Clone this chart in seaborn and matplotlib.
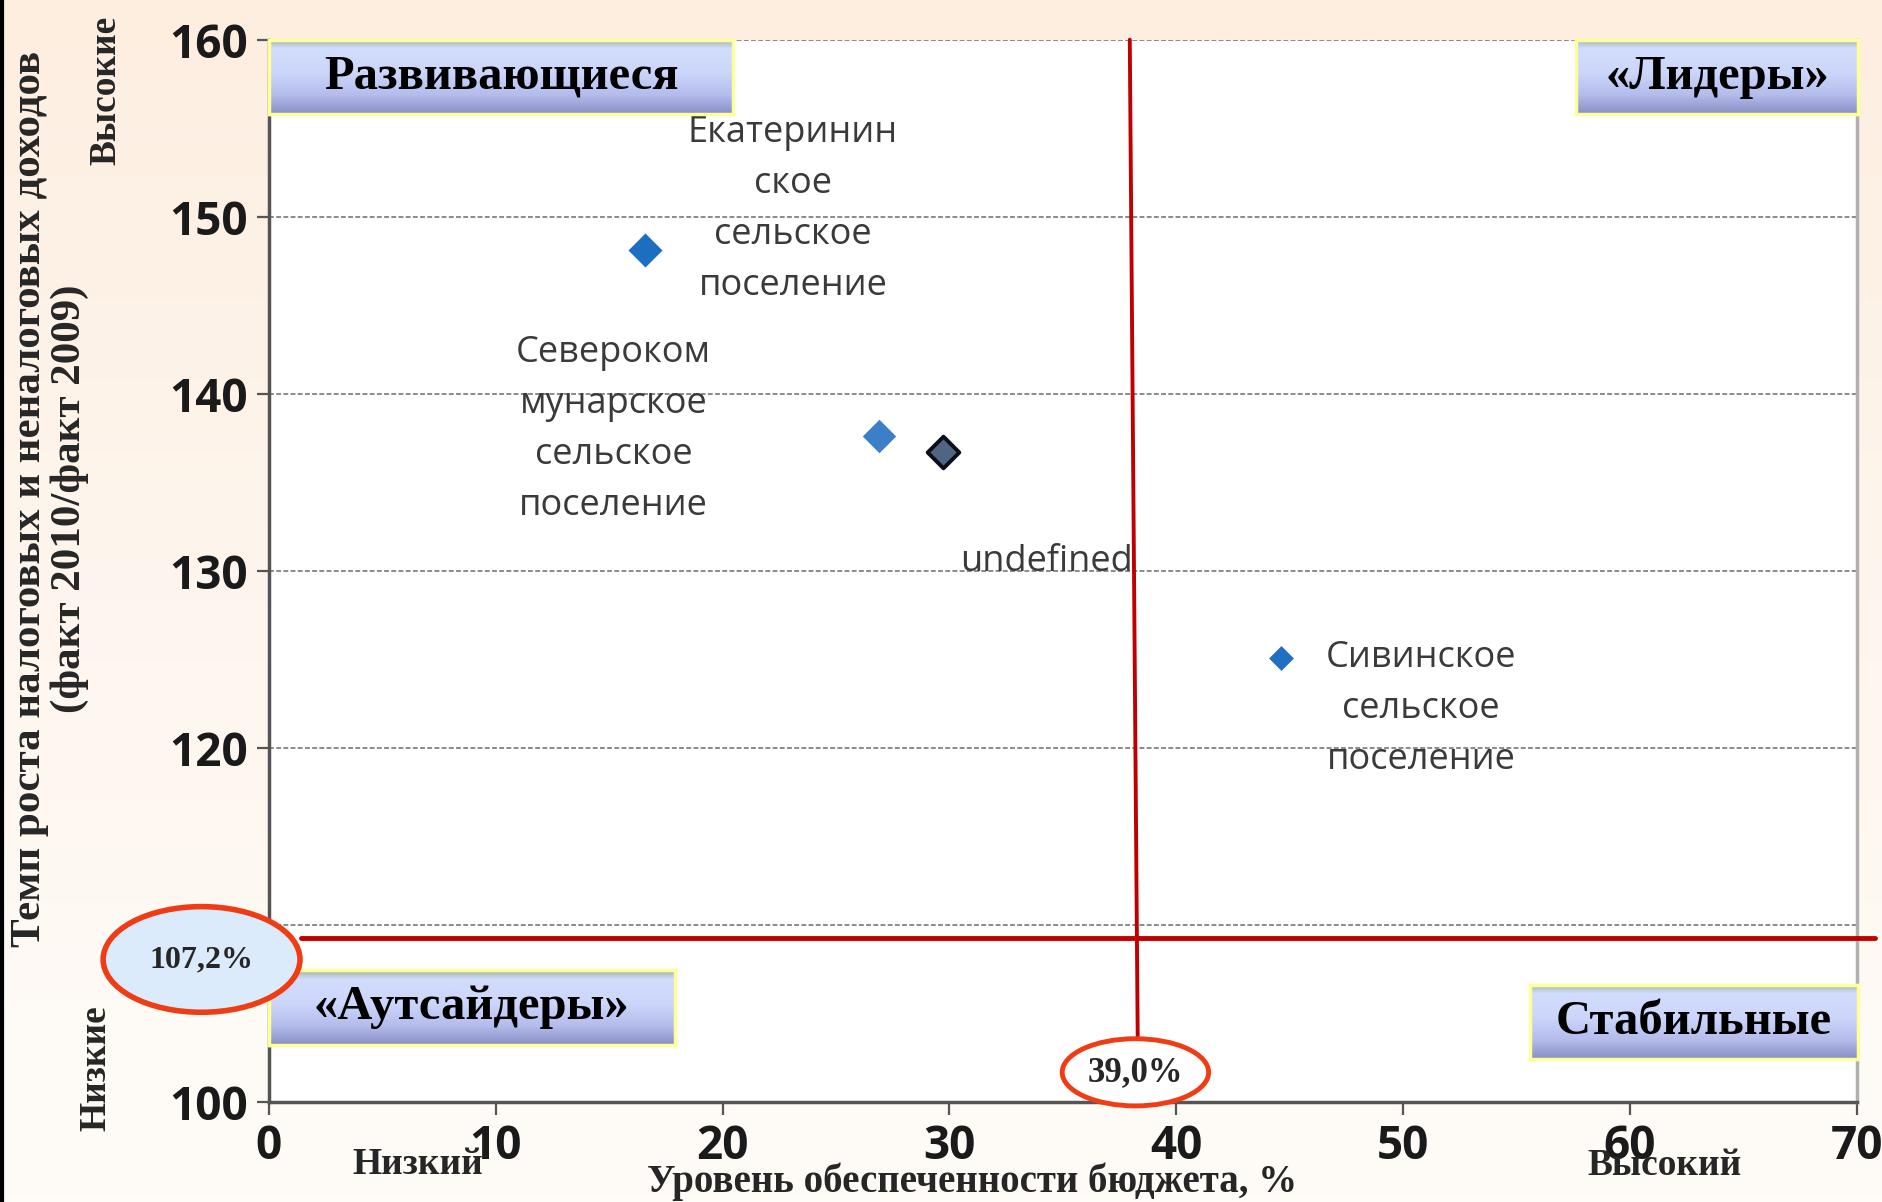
import numpy as np
import pandas as pd
import matplotlib
matplotlib.use("Agg")
import matplotlib.pyplot as plt
import seaborn as sns
from matplotlib.patches import Ellipse
from matplotlib.colors import LinearSegmentedColormap

# --- data ---
settlements = ["Екатерининское", "Северокоммунарское", "undefined", "Сивинское"]
budget_level = [16.6, 26.9, 29.7, 44.6]      # Уровень обеспеченности бюджета, %
growth_rate = [148.1, 137.6, 136.7, 125.1]   # Темп роста доходов
point_labels = ["Екатеринин\nское\nсельское\nпоселение",
                "Североком\nмунарское\nсельское\nпоселение",
                "undefined",
                "Сивинское\nсельское\nпоселение"]
quadrant_names = ["Развивающиеся", "«Лидеры»", "«Аутсайдеры»", "Стабильные"]
x_threshold_label = "39,0%"
y_threshold_label = "107,2%"
x_threshold_pos = [37.95, 38.3]   # red line drawn slightly tilted in the original
y_threshold_pos = 109.3
x_ticks = [0, 10, 20, 30, 40, 50, 60, 70]
y_ticks = [100, 110, 120, 130, 140, 150, 160]

# --- layout / style ---
label_xy = [(23.1, 150.4), (15.2, 138.0), (34.3, 130.5), (50.8, 122.2)]
marker_size = [300, 290, 260, 160]
marker_fill = ["#1c6fc0", "#3b80c6", "#4f6582", "#1f70c2"]
marker_edge = ["#1c6fc0", "#3b80c6", "#0b0f1a", "#1f70c2"]
marker_lw = [0, 0, 2.8, 0]

df = pd.DataFrame({"settlement": settlements, "budget": budget_level, "growth": growth_rate})

sns.set_style("ticks")
plt.rcParams["font.family"] = ["Liberation Serif", "DejaVu Sans"]

fig = plt.figure(figsize=(18.82, 12.02), dpi=100)

# slide background
bg = fig.add_axes([0, 0, 1, 1], zorder=-10)
bg_cmap = LinearSegmentedColormap.from_list("bg", ["#fdeee0", "#fef6ee", "#fffcf8"])
bg.imshow(np.linspace(0, 1, 200).reshape(-1, 1), aspect="auto", cmap=bg_cmap, extent=[0, 1, 0, 1])
bg.axvline(0.001, color="black", lw=3)
bg.set_xlim(0, 1)
bg.set_ylim(0, 1)
bg.axis("off")

ax = fig.add_axes([0.1429, 0.0829, 0.8437, 0.8841])
ax.set_facecolor("white")

for i, row in df.iterrows():
    sns.scatterplot(data=row.to_frame().T, x="budget", y="growth", marker="D",
                    s=marker_size[i], color=marker_fill[i], edgecolor=marker_edge[i],
                    linewidth=marker_lw[i], ax=ax, zorder=4, legend=False)

for lbl, (tx, ty) in zip(point_labels, label_xy):
    ax.text(tx, ty, lbl, ha="center", va="center", fontsize=26, color="#3a3a3a",
            family="Open Sans", linespacing=1.55, zorder=3)

ax.set_xlim(x_ticks[0], x_ticks[-1])
ax.set_ylim(y_ticks[0], y_ticks[-1])
ax.set_xticks(x_ticks)
ax.set_yticks(y_ticks)
ax.set_xlabel("")
ax.set_ylabel("")
ax.yaxis.grid(True, linestyle=(0, (2.5, 1.2)), color="#8a8a8a", lw=1.4)
ax.set_axisbelow(True)
ax.tick_params(axis="both", length=9, width=1.6, color="#555555", labelsize=33,
               labelcolor="#1a1a1a", pad=6)
plt.setp(ax.get_xticklabels() + ax.get_yticklabels(), family="Open Sans", weight="bold")
ax.spines["top"].set_visible(False)
ax.spines["left"].set_color("#555555")
ax.spines["left"].set_linewidth(2.5)
ax.spines["bottom"].set_color("#555555")
ax.spines["bottom"].set_linewidth(2.5)
ax.spines["right"].set_color("#b0b0b0")
ax.spines["right"].set_linewidth(2.5)

# threshold lines
ax.plot([1.4, 70.8], [y_threshold_pos, y_threshold_pos], color="#c00000", lw=3.5,
        clip_on=False, zorder=5)
ax.plot(x_threshold_pos, [160, 103.6], color="#c00000", lw=2.8, clip_on=False, zorder=5)

# quadrant boxes
box_cmap = LinearSegmentedColormap.from_list(
    "box", [(0, "#a2b5aa"), (0.12, "#d2dcfc"), (0.45, "#ccd6fa"), (0.75, "#b4bcec"), (1, "#888fc4")])
grad = np.linspace(0, 1, 100).reshape(-1, 1)
box_rects = [[0.1429, 0.905, 0.2468, 0.062],
             [0.8374, 0.905, 0.1498, 0.062],
             [0.1429, 0.1309, 0.2155, 0.062],
             [0.8131, 0.1189, 0.1741, 0.062]]
for name, rect in zip(quadrant_names, box_rects):
    bx = fig.add_axes(rect, zorder=6)
    bx.imshow(grad, aspect="auto", cmap=box_cmap, extent=[0, 1, 0, 1])
    bx.set_xticks([])
    bx.set_yticks([])
    for sp in bx.spines.values():
        sp.set_color("#ffff99")
        sp.set_linewidth(2.5)
    bx.text(0.5, 0.5, name, ha="center", va="center", fontsize=35, fontweight="bold",
            color="black", transform=bx.transAxes)

# threshold value ovals
fig.add_artist(Ellipse((0.1071, 0.2018), 0.1046, 0.0879, facecolor="#dcebfb",
                       edgecolor="#f03c14", lw=4, transform=fig.transFigure, zorder=8))
fig.text(0.1071, 0.2018, y_threshold_label, ha="center", va="center", fontsize=23,
         fontweight="bold", zorder=9)
fig.add_artist(Ellipse((0.6033, 0.1079), 0.0778, 0.0559, facecolor="white",
                       edgecolor="#f03c14", lw=3.5, transform=fig.transFigure, zorder=8))
fig.text(0.6033, 0.1079, x_threshold_label, ha="center", va="center", fontsize=25,
         fontweight="bold", zorder=9)

# axis titles and scale words
fig.text(0.0268, 0.585, "Темп роста налоговых и неналоговых доходов\n(факт 2010/факт 2009)",
         rotation=90, ha="center", va="center", fontsize=31, fontweight="bold", linespacing=1.05)
fig.text(0.0561, 0.925, "Высокие", rotation=90, ha="center", va="center", fontsize=27, fontweight="bold")
fig.text(0.0510, 0.111, "Низкие", rotation=90, ha="center", va="center", fontsize=27, fontweight="bold")
fig.text(0.2220, 0.031, "Низкий", ha="center", va="center", fontsize=27, fontweight="bold")
fig.text(0.8846, 0.030, "Высокий", ha="center", va="center", fontsize=27, fontweight="bold")
fig.text(0.5166, 0.017, "Уровень обеспеченности бюджета, %", ha="center", va="center",
         fontsize=28, fontweight="bold")

fig.savefig("out.png", dpi=100)
